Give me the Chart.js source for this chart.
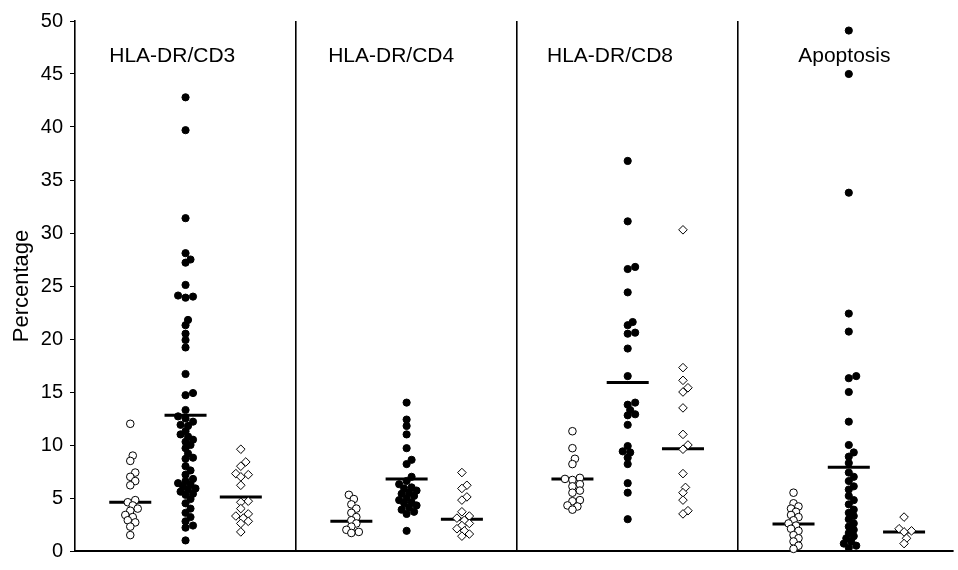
<!DOCTYPE html>
<html>
<head>
<meta charset="utf-8">
<title>Percentage dot plot</title>
<script src="https://cdn.jsdelivr.net/npm/chart.js@4"></script>
<style>
  html, body { margin: 0; padding: 0; background: #fff; }
</style>
</head>
<body>
<canvas id="chart" width="958" height="570"></canvas>
<script>
// --- Data ---
const panels = ['HLA-DR/CD3', 'HLA-DR/CD4', 'HLA-DR/CD8', 'Apoptosis']
const yTicks = [0, 5, 10, 15, 20, 25, 30, 35, 40, 45, 50]

// open circles
const openCd3 = [12.0, 9.0, 8.5, 7.4, 7.0, 6.6, 6.2, 4.8, 4.6, 4.3, 4.0, 3.8, 3.4, 3.2, 2.9, 2.7, 2.3, 1.5]
const openCd4 = [5.3, 4.9, 4.4, 4.0, 3.6, 3.2, 2.9, 2.6, 2.3, 2.0, 1.8, 1.7]
const openCd8 = [11.3, 9.7, 8.7, 8.2, 6.9, 6.8, 6.7, 6.3, 6.1, 5.7, 5.5, 4.8, 4.7, 4.3, 4.2, 3.9]
const openApo = [5.5, 4.5, 4.2, 4.0, 3.7, 3.4, 3.2, 2.9, 2.6, 2.4, 2.1, 1.9, 1.5, 1.2, 0.9, 0.5, 0.2]

// filled circles
const filledCd3 = [42.8, 39.7, 31.4, 28.1, 27.5, 27.2, 25.1, 24.1, 24.0, 23.9, 21.8, 21.3, 20.5, 19.9, 19.2,
  16.7, 14.9, 14.7, 13.3, 12.7, 12.5, 12.2, 11.9, 11.8, 11.3, 11.0, 10.8, 10.5, 10.3, 10.0, 9.7, 9.2, 8.8,
  8.7, 8.0, 7.6, 7.2, 6.8, 6.6, 6.4, 6.3, 6.1, 5.9, 5.8, 5.6, 5.4, 5.3, 4.9, 4.5, 4.0, 3.6, 3.2, 2.8, 2.4, 2.2, 1.0]
const filledCd4 = [14.0, 12.4, 11.8, 11.0, 9.7, 8.6, 8.2, 7.0, 6.6, 6.3, 6.0, 5.9, 5.7, 5.5, 5.4, 5.2, 5.0,
  4.8, 4.6, 4.5, 4.3, 4.1, 3.9, 3.7, 3.5, 1.9]
const filledCd8 = [36.8, 31.1, 26.8, 26.6, 24.4, 21.6, 21.3, 20.6, 20.5, 19.1, 16.5, 14.0, 13.8, 13.3, 12.9,
  12.8, 11.9, 9.9, 9.4, 9.3, 8.8, 8.2, 6.4, 5.5, 3.0]
const filledApo = [49.1, 45.0, 33.8, 22.4, 20.7, 16.5, 16.3, 15.0, 12.2, 10.0, 9.3, 8.9, 8.3, 7.4, 7.0, 6.6,
  6.1, 5.8, 5.2, 4.8, 4.4, 3.9, 3.6, 3.3, 3.0, 2.6, 2.3, 2.0, 1.7, 1.4, 1.2, 0.9, 0.7, 0.5, 0.3]

// open diamonds
const diamondCd3 = [9.6, 8.4, 8.0, 7.3, 7.2, 7.0, 6.2, 4.7, 4.6, 4.0, 3.5, 3.3, 3.1, 2.8, 2.6, 1.8]
const diamondCd4 = [7.4, 6.2, 5.9, 5.1, 4.8, 3.7, 3.3, 3.1, 2.9, 2.6, 2.4, 2.1, 1.9, 1.6, 1.4]
const diamondCd8 = [30.3, 17.3, 16.1, 15.4, 15.0, 13.5, 11.0, 10.0, 9.6, 7.3, 6.0, 5.5, 4.8, 3.8, 3.5]
const diamondApo = [3.2, 2.1, 1.9, 1.8, 1.2, 0.7]

// median bars per panel: [open, filled, diamond]
const mediansCd3 = [4.6, 12.8, 5.1]
const mediansCd4 = [2.8, 6.8, 3.0]
const mediansCd8 = [6.8, 15.9, 9.65]
const mediansApo = [2.55, 7.9, 1.8]

// --- Layout helpers ---
const X_MAX = 3.97
const PX_PER_X = 883 / X_MAX
const PX_PER_Y = 542 / 50
const groupOffsets = [0.25, 0.5, 0.75]
const halfBar = 0.095

// simple beeswarm so overlapping dots spread sideways
function swarm(values, minDist, step) {
  const placed = []
  const offsets = new Array(values.length).fill(0)
  const order = values.map((v, i) => i).sort((a, b) => values[a] - values[b])
  order.forEach((i) => {
    const py = values[i] * PX_PER_Y
    for (let k = 0; k < 60; k++) {
      const dx = k === 0 ? 0 : (k % 2 ? 1 : -1) * Math.ceil(k / 2) * step
      const ok = placed.every((p) => Math.hypot(p.x - dx, p.y - py) >= minDist)
      if (ok) {
        placed.push({ x: dx, y: py })
        offsets[i] = dx
        break
      }
    }
  })
  return offsets
}

function toPoints(groups, g) {
  const pts = []
  groups.forEach((values, p) => {
    const offs = swarm(values, 5.5, 2.5)
    values.forEach((v, i) => {
      pts.push({ x: p + groupOffsets[g] + offs[i] / PX_PER_X, y: v })
    })
  })
  return pts
}

const medianGroups = [mediansCd3, mediansCd4, mediansCd8, mediansApo]
const medianPoints = []
medianGroups.forEach((m, p) => {
  m.forEach((v, g) => {
    const c = p + groupOffsets[g]
    medianPoints.push({ x: c - halfBar, y: v }, { x: c + halfBar, y: v }, { x: c, y: null })
  })
})

const FONT = '"Liberation Sans", Arial, Helvetica, sans-serif'

// --- Panel titles ---
const panelTitles = {
  id: 'panelTitles',
  afterDatasetsDraw(chart) {
    const { ctx, scales } = chart
    const centers = [0.44, 0.43, 0.42, 0.48]
    ctx.save()
    ctx.fillStyle = '#000'
    ctx.font = '21px ' + FONT
    ctx.textAlign = 'center'
    ctx.textBaseline = 'middle'
    panels.forEach((name, i) => {
      ctx.fillText(name, scales.x.getPixelForValue(i + centers[i]), scales.y.getPixelForValue(46.7))
    })
    ctx.restore()
  },
}

new Chart(document.getElementById('chart'), {
  type: 'scatter',
  data: {
    datasets: [
      {
        label: 'open',
        data: toPoints([openCd3, openCd4, openCd8, openApo], 0),
        pointStyle: 'circle',
        pointRadius: 3.8,
        backgroundColor: '#fff',
        borderColor: '#000',
        borderWidth: 1,
      },
      {
        label: 'filled',
        data: toPoints([filledCd3, filledCd4, filledCd8, filledApo], 1),
        pointStyle: 'circle',
        pointRadius: 3.6,
        backgroundColor: '#000',
        borderColor: '#000',
        borderWidth: 1,
      },
      {
        label: 'diamond',
        data: toPoints([diamondCd3, diamondCd4, diamondCd8, diamondApo], 2),
        pointStyle: 'rectRot',
        pointRadius: 4.3,
        backgroundColor: '#fff',
        borderColor: '#000',
        borderWidth: 1,
      },
      {
        type: 'line',
        label: 'median',
        data: medianPoints,
        showLine: true,
        spanGaps: false,
        pointRadius: 0,
        borderColor: '#000',
        borderWidth: 3,
      },
    ],
  },
  options: {
    responsive: false,
    animation: false,
    clip: false,
    layout: { padding: { top: 21, bottom: 7, left: 0, right: 0 } },
    plugins: {
      legend: { display: false },
      tooltip: { enabled: false },
    },
    scales: {
      x: {
        type: 'linear',
        min: 0,
        max: X_MAX,
        afterBuildTicks: (scale) => {
          scale.ticks = [1, 2, 3].map((v) => ({ value: v }))
        },
        afterFit: (scale) => {
          scale.height = 0
        },
        ticks: { display: false },
        grid: { color: '#000', lineWidth: 1.6, drawTicks: false },
        border: { display: true, color: '#000', width: 2 },
      },
      y: {
        min: 0,
        max: 50,
        afterBuildTicks: (scale) => {
          scale.ticks = yTicks.map((v) => ({ value: v }))
        },
        afterFit: (scale) => {
          scale.width = 75
        },
        ticks: {
          color: '#000',
          padding: 7,
          font: { family: FONT, size: 20 },
        },
        grid: { drawOnChartArea: false, color: '#000', tickLength: 5 },
        border: { display: true, color: '#000', width: 1.6 },
        title: {
          display: true,
          text: 'Percentage',
          color: '#000',
          font: { family: FONT, size: 22 },
          padding: { top: 9, bottom: 0 },
        },
      },
    },
  },
  plugins: [panelTitles],
})
</script>
</body>
</html>
